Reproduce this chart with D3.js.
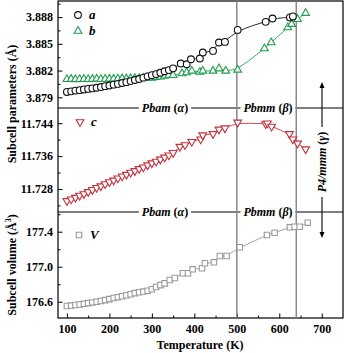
<!DOCTYPE html>
<html>
<head>
<meta charset="utf-8">
<script src="https://cdn.jsdelivr.net/npm/d3@7"></script>
<style>
body { margin: 0; background: #fff; }
svg text { font-family: "Liberation Serif", "Times New Roman", serif; font-weight: bold; }
</style>
</head>
<body>
<svg id="chart" width="345" height="353"></svg>
<script>
// lattice parameters
var tempA = [100,110,120,130,140,150,160,170,180,190,200,210,220,230,240,250,260,270,280,290,300,310,320,330,340,
    350,368,382,392,413,420,444,458,472,502,568,584,625,632];
var valA = [3.87960,3.87967,3.87975,3.87980,3.87988,3.87994,3.88000,3.88007,3.88015,3.88025,3.88032,3.88042,3.88050,
    3.88060,3.88070,3.88082,3.88094,3.88105,3.88120,3.88135,3.88148,3.88160,3.88175,3.88192,3.88205,
    3.88225,3.88279,3.88271,3.88327,3.88335,3.88402,3.88420,3.88515,3.88521,3.88656,3.88746,3.88784,3.88796,3.88807];

var tempB = [100,110,120,130,140,150,160,170,180,190,200,210,220,230,240,250,260,270,280,290,300,310,320,330,340,
    350,371,382,394,413,420,444,458,474,502,565,581,620,629,643,662];
var valB = [3.88102,3.88104,3.88101,3.88103,3.88105,3.88102,3.88104,3.88106,3.88103,3.88105,3.88107,3.88106,3.88108,
    3.88110,3.88109,3.88112,3.88114,3.88113,3.88117,3.88120,3.88118,3.88125,3.88131,3.88140,3.88150,
    3.88147,3.88166,3.88178,3.88196,3.88184,3.88196,3.88196,3.88222,3.88196,3.88207,3.88447,3.88515,3.88683,3.88720,3.88776,3.88844];

var tempC = [100,110,120,130,140,150,160,170,180,190,200,210,220,230,240,250,260,270,280,290,300,310,320,330,340,
    350,366,378,394,415,420,444,458,472,502,568,572,582,624,632,643,662];
var valC = [11.7251,11.7255,11.7259,11.7264,11.7268,11.7273,11.7278,11.7283,11.7287,11.7292,11.7297,11.7301,11.7306,
    11.7311,11.7315,11.7320,11.7324,11.7329,11.7333,11.7338,11.7343,11.7347,11.7352,11.7357,11.7362,
    11.7368,11.7383,11.7387,11.7395,11.7401,11.7411,11.7414,11.7425,11.7428,11.7442,11.7438,11.7440,11.7432,11.7414,11.7401,11.7391,11.7377];

var tempV = [100,110,120,130,140,150,160,170,180,190,200,210,220,230,240,250,260,270,280,290,300,310,320,330,
    342,354,373,385,396,418,425,446,460,476,507,571,589,625,636,648,667];
var valV = [176.551,176.556,176.562,176.568,176.576,176.584,176.592,176.600,176.608,176.618,176.630,176.642,176.652,
    176.662,176.674,176.686,176.698,176.708,176.716,176.726,176.742,176.768,176.790,176.810,
    176.848,176.871,176.925,176.925,176.970,176.982,177.039,177.050,177.122,177.122,177.222,177.362,177.388,177.450,177.457,177.457,177.503];

var xTicks = [100,200,300,400,500,600,700];
var topTicks = [3.879,3.882,3.885,3.888];
var midTicks = [11.728,11.736,11.744];
var botTicks = [176.6,177.0,177.4];
var transitions = [500,640];

var svg = d3.select("#chart");
var left = 58, right = 343, plotTop = 1, bottom = 318;
var b1 = 108, b2 = 212;

var x = d3.scaleLinear().domain([79, 750]).range([left, right]);
var yTop = d3.scaleLinear().domain([3.8778, 3.8898]).range([b1, plotTop]);
var yMid = d3.scaleLinear().domain([11.7224, 11.7477]).range([b2, b1]);
var yBot = d3.scaleLinear().domain([176.414, 177.625]).range([bottom, b2]);

var green = "#1e9e4e", red = "#c0313c", grey = "#9a9a9a";

// axes: inward ticks with minor ticks in between
function yAxis(scale, ticks, fmt) {
    var step = ticks[1] - ticks[0];
    var minor = ticks.map(function (t) { return t - step / 2; }).concat([ticks[ticks.length - 1] + step / 2])
        .filter(function (t) { return t > scale.domain()[0] && t < scale.domain()[1]; });
    svg.append("g").attr("transform", "translate(" + left + ",0)")
        .call(d3.axisLeft(scale).tickValues(minor).tickSize(-2.5).tickFormat(""))
        .call(function (g) { g.select(".domain").remove(); });
    var g = svg.append("g").attr("transform", "translate(" + left + ",0)")
        .call(d3.axisLeft(scale).tickValues(ticks).tickSizeInner(-4.5).tickSizeOuter(0).tickPadding(5).tickFormat(d3.format(fmt)));
    g.select(".domain").remove();
    g.selectAll("text").attr("font-size", 12).attr("fill", "#000").attr("font-family", null);
}
yAxis(yTop, topTicks, ".3f");
yAxis(yMid, midTicks, ".3f");
yAxis(yBot, botTicks, ".1f");

svg.append("g").attr("transform", "translate(0," + bottom + ")")
    .call(d3.axisBottom(x).tickValues(d3.range(150, 750, 100)).tickSize(-2.5).tickFormat(""))
    .call(function (g) { g.select(".domain").remove(); });
var xg = svg.append("g").attr("transform", "translate(0," + bottom + ")")
    .call(d3.axisBottom(x).tickValues(xTicks).tickSizeInner(-4.5).tickSizeOuter(0).tickPadding(6));
xg.select(".domain").remove();
xg.selectAll("text").attr("font-size", 12).attr("fill", "#000").attr("font-family", null);

// frame
svg.append("rect").attr("x", left).attr("y", plotTop).attr("width", right - left).attr("height", bottom - plotTop)
    .attr("fill", "none").attr("stroke", "#000").attr("stroke-width", 1.2);

// phase boundaries between panels, labels sit on the line
[b1, b2].forEach(function (yy) {
    svg.append("line").attr("x1", left).attr("x2", right).attr("y1", yy).attr("y2", yy)
        .attr("stroke", "#000").attr("stroke-width", 1.2);
    [["Pbam", "α", 165], ["Pbmm", "β", 268]].forEach(function (p) {
        var bg = svg.append("rect").attr("fill", "#fff");
        var t = svg.append("text").attr("x", p[2]).attr("y", yy + 4).attr("text-anchor", "middle")
            .attr("font-size", 12).attr("font-style", "italic");
        t.append("tspan").text(p[0]);
        t.append("tspan").attr("font-style", "normal").text(" (");
        t.append("tspan").text(p[1]);
        t.append("tspan").attr("font-style", "normal").text(")");
        var bb = t.node().getBBox();
        bg.attr("x", bb.x - 3).attr("y", bb.y).attr("width", bb.width + 6).attr("height", bb.height);
    });
});

// transition temperatures
transitions.forEach(function (t) {
    svg.append("line").attr("x1", x(t)).attr("x2", x(t)).attr("y1", plotTop).attr("y2", bottom)
        .attr("stroke", "#888").attr("stroke-width", 1.5);
});

// gamma phase label with arrows
var gx = 322;
var gt = svg.append("text").attr("transform", "translate(" + (gx + 4) + ",162) rotate(-90)")
    .attr("text-anchor", "middle").attr("font-size", 12).attr("font-style", "italic");
gt.append("tspan").text("P4/mmm");
gt.append("tspan").attr("font-style", "normal").text(" (");
gt.append("tspan").text("γ");
gt.append("tspan").attr("font-style", "normal").text(")");
svg.append("line").attr("x1", gx).attr("x2", gx).attr("y1", 86).attr("y2", 127).attr("stroke", "#000").attr("stroke-width", 1.1);
svg.append("line").attr("x1", gx).attr("x2", gx).attr("y1", 197).attr("y2", 234).attr("stroke", "#000").attr("stroke-width", 1.1);
svg.append("path").attr("d", "M" + gx + ",82 l-2.5,6 l5,0 z").attr("fill", "#000");
svg.append("path").attr("d", "M" + gx + ",238 l-2.5,-6 l5,0 z").attr("fill", "#000");

// series
function series(temps, vals, y, color, shape) {
    var pts = temps.map(function (t, i) { return [x(t), y(vals[i])]; });
    svg.append("path").attr("d", d3.line().curve(d3.curveBasis)(pts))
        .attr("fill", "none").attr("stroke", color).attr("stroke-width", 0.9);
    svg.append("g").selectAll("path").data(pts).join("path")
        .attr("transform", function (d) { return "translate(" + d[0] + "," + d[1] + ")" + shape.rot; })
        .attr("d", shape.d)
        .attr("fill", "#fff").attr("stroke", color).attr("stroke-width", 1.1);
}
var circle = { d: d3.symbol(d3.symbolCircle, 36)(), rot: "" };
var triUp = { d: d3.symbol(d3.symbolTriangle, 26)(), rot: "" };
var triDown = { d: d3.symbol(d3.symbolTriangle, 26)(), rot: " rotate(180)" };
var square = { d: d3.symbol(d3.symbolSquare, 30)(), rot: "" };

series(tempB, valB, yTop, green, triUp);
series(tempA, valA, yTop, "#111", circle);
series(tempC, valC, yMid, red, triDown);
series(tempV, valV, yBot, grey, square);

// legends
function legend(px, py, shape, color, label) {
    svg.append("path").attr("transform", "translate(" + px + "," + py + ")" + shape.rot).attr("d", shape.d)
        .attr("fill", "#fff").attr("stroke", color).attr("stroke-width", 1.1);
    svg.append("text").attr("x", px + 11).attr("y", py + 4).attr("font-size", 13)
        .attr("font-style", "italic").text(label);
}
legend(78, 15, circle, "#111", "a");
legend(78, 31, triUp, green, "b");
legend(80, 122, triDown, red, "c");
legend(79, 235, square, grey, "V");

// axis titles
svg.append("text").attr("transform", "translate(16,104) rotate(-90)").attr("text-anchor", "middle")
    .attr("font-size", 12).text("Subcell parameters (Å)");
var vt = svg.append("text").attr("transform", "translate(16,265) rotate(-90)").attr("text-anchor", "middle")
    .attr("font-size", 12).text("Subcell volume (Å");
vt.append("tspan").attr("font-size", 8).attr("dy", -5).text("3");
vt.append("tspan").attr("dy", 5).text(")");
svg.append("text").attr("x", 200).attr("y", 349).attr("text-anchor", "middle")
    .attr("font-size", 12).text("Temperature (K)");
</script>
</body>
</html>
